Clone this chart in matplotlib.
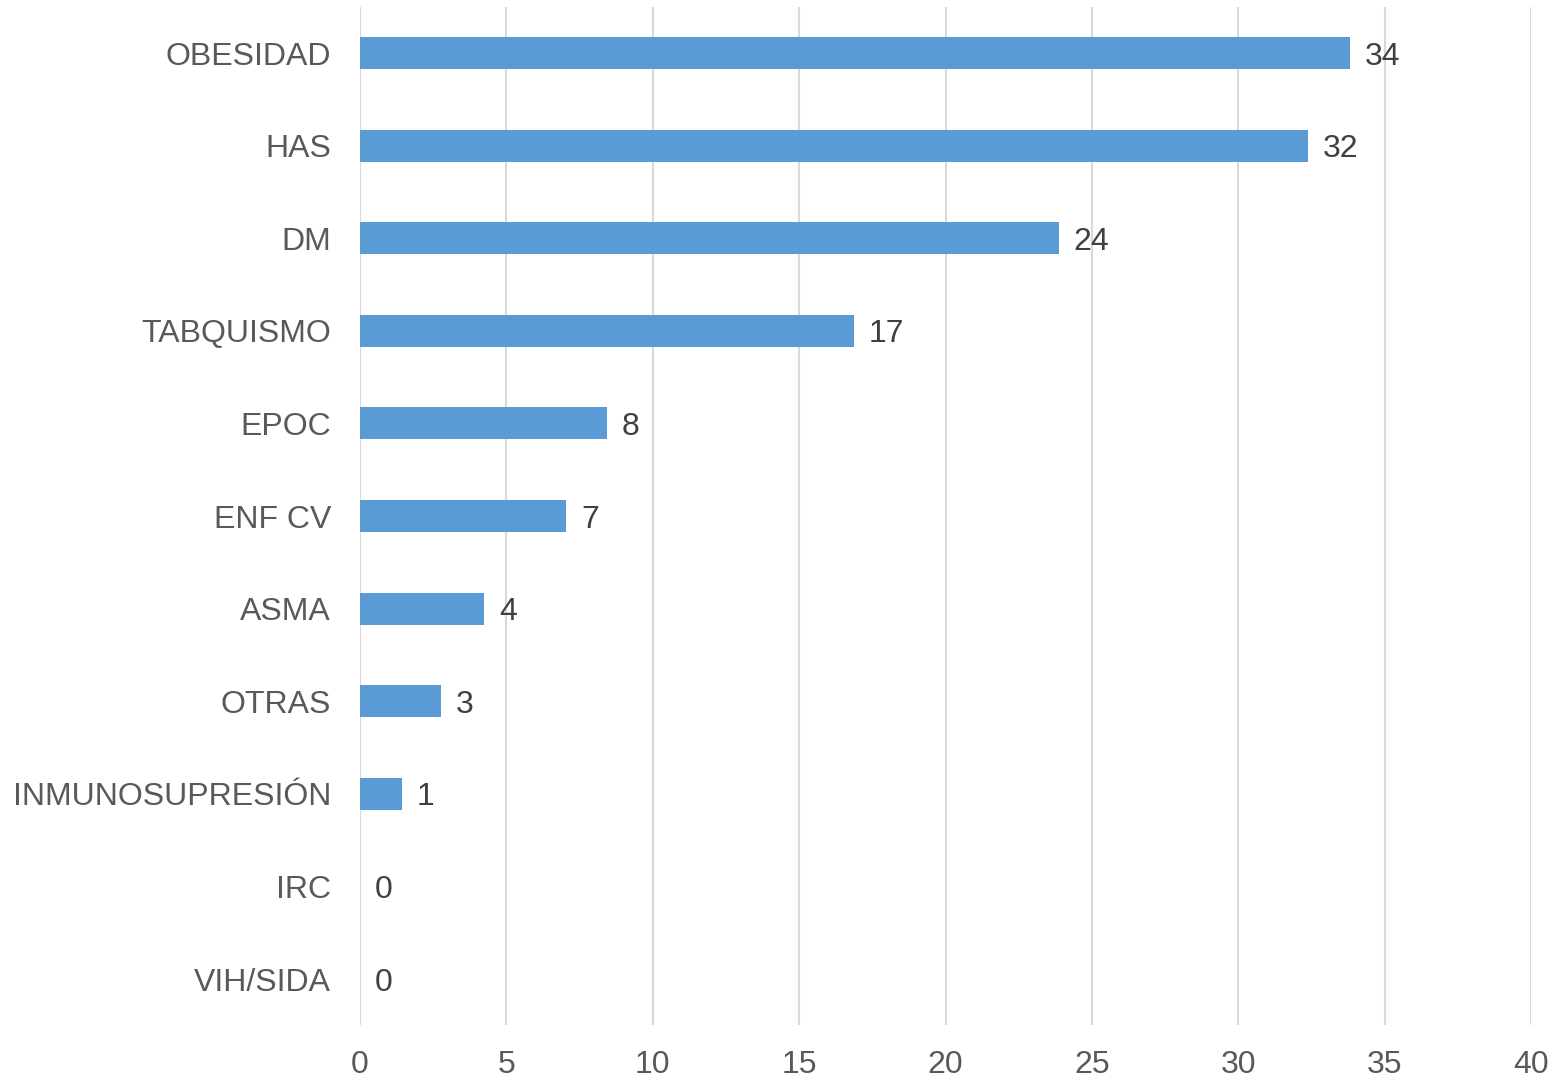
import numpy as np
import matplotlib.pyplot as plt

plt.rcParams["font.family"] = ["Liberation Sans", "DejaVu Sans"]

categories = ["OBESIDAD", "HAS", "DM", "TABQUISMO", "EPOC", "ENF CV",
              "ASMA", "OTRAS", "INMUNOSUPRESIÓN", "IRC", "VIH/SIDA"]
values = [33.82, 32.37, 23.88, 16.88, 8.42, 7.05, 4.25, 2.78, 1.42, 0, 0]
value_labels = ["34", "32", "24", "17", "8", "7", "4", "3", "1", "0", "0"]

fig = plt.figure(figsize=(15.52, 10.81), dpi=100)
ax = fig.add_axes([0.232, 0.0515, 0.7545, 0.9423])

y = np.arange(len(categories))
ax.barh(y, values, height=0.345, color="#5B9BD5", zorder=3)

for yi, v, lab in zip(y, values, value_labels):
    ax.text(v + 0.5, yi, lab, va="center_baseline", ha="left",
            fontsize=23, color="#404040")

ax.set_xlim(0, 40)
ax.set_ylim(len(categories) - 0.5, -0.5)
ax.set_xticks(np.arange(0, 41, 5))
ax.set_yticks(y)
ax.set_yticklabels(categories)
ax.tick_params(axis="both", length=0, labelsize=23, labelcolor="#595959")
ax.tick_params(axis="y", pad=21)
ax.tick_params(axis="x", pad=18)
ax.grid(axis="x", color="#D9D9D9", linewidth=1.5, zorder=0)
for s in ax.spines.values():
    s.set_visible(False)

fig.savefig("out.png", dpi=100)
